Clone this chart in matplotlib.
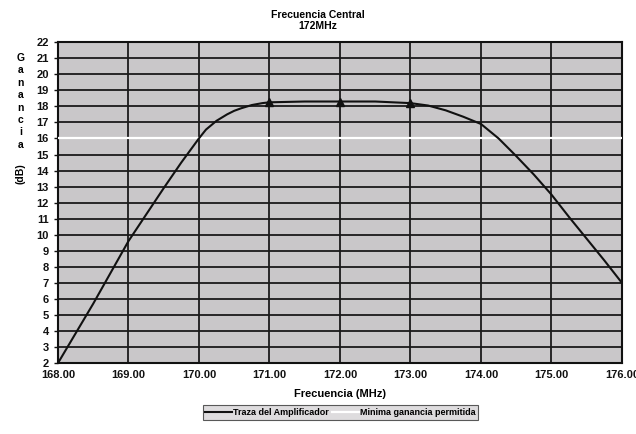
import matplotlib
matplotlib.use("Agg")
import matplotlib.pyplot as plt
from matplotlib.ticker import FormatStrFormatter

plt.rcParams['font.family'] = ['Liberation Sans', 'DejaVu Sans']
plt.rcParams['font.weight'] = 'bold'

# Curva del amplificador
freq = [168.0, 168.5, 169.0, 169.5, 169.75, 170.0, 170.1, 170.25, 170.4, 170.5,
        170.6, 170.75, 170.9, 171.0, 171.5, 172.0, 172.5, 173.0, 173.25, 173.5,
        173.75, 174.0, 174.25, 174.5, 174.75, 175.0, 175.25, 175.5, 175.75, 176.0]
gain = [2.0, 5.7, 9.6, 12.9, 14.5, 16.0, 16.55, 17.1, 17.5, 17.72,
        17.88, 18.08, 18.2, 18.25, 18.3, 18.3, 18.3, 18.2, 18.05, 17.75,
        17.35, 16.9, 16.0, 14.9, 13.75, 12.5, 11.1, 9.75, 8.4, 7.0]
# Puntos marcados
mark_freq = [171.0, 172.0, 173.0]
# Minima ganancia permitida
min_gain = 16.0

x_ticks = [168, 169, 170, 171, 172, 173, 174, 175, 176]
y_ticks = list(range(2, 23))

fig = plt.figure(figsize=(6.36, 4.34), dpi=100)
ax = fig.add_axes([0.091, 0.163, 0.887, 0.740])
ax.set_facecolor('#c9c7c9')

ax.grid(True, color='#1a1a1a', linewidth=1.3)
ax.set_axisbelow(True)

ax.axhline(min_gain, color='white', linewidth=1.6, linestyle='-', zorder=3,
           label='Minima ganancia permitida')
ax.plot(freq, gain, color='#111111', linewidth=1.5, zorder=4,
        label='Traza del Amplificador')
mark_idx = [freq.index(f) for f in mark_freq]
ax.plot([freq[i] for i in mark_idx], [gain[i] for i in mark_idx], linestyle='none',
        marker='^', color='#111111', markersize=5.5, zorder=5)

ax.set_xlim(168, 176)
ax.set_ylim(2, 22)
ax.set_xticks(x_ticks)
ax.set_yticks(y_ticks)
ax.xaxis.set_major_formatter(FormatStrFormatter('%.2f'))
ax.tick_params(axis='both', labelsize=8, length=3, width=1, colors='#111111')
ax.tick_params(axis='x', length=0, pad=5)
for s in ax.spines.values():
    s.set_linewidth(1.5)
    s.set_color('#111111')

ax.set_xlabel('Frecuencia (MHz)', fontsize=8, fontweight='bold', labelpad=6)
fig.suptitle('Frecuencia Central\n172MHz', fontsize=7.5, fontweight='bold',
             y=0.978, linespacing=1.15)

# Etiqueta vertical apilada
fig.text(0.032, 0.878, '\n'.join('Ganancia'), ha='center', va='top',
         fontsize=7.5, fontweight='bold', linespacing=1.3)
fig.text(0.032, 0.625, '(dB)', ha='center', va='top', rotation=90,
         fontsize=7.5, fontweight='bold')

handles, labels = ax.get_legend_handles_labels()
leg = fig.legend(handles[::-1], labels[::-1], loc='center', ncol=2,
                 bbox_to_anchor=(0.535, 0.05), fontsize=6.5, frameon=True,
                 fancybox=False, edgecolor='#333333', facecolor='#d6d4d6',
                 handlelength=3, columnspacing=0.3, handletextpad=0.1,
                 borderpad=0.3)
leg.get_frame().set_linewidth(0.8)

fig.savefig('out.png', dpi=100)
